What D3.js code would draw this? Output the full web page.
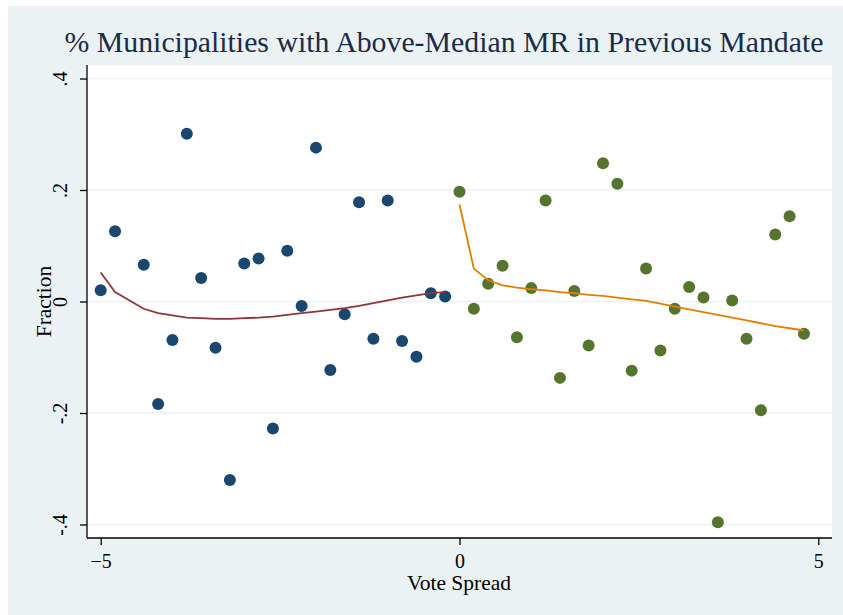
<!DOCTYPE html>
<html>
<head>
<meta charset="utf-8">
<script src="https://cdn.jsdelivr.net/npm/d3@7"></script>
<style>
  body { margin: 0; background: #fff; }
  svg text { font-family: "Liberation Serif", "Times New Roman", serif; }
</style>
</head>
<body>
<div id="chart"></div>
<script>
// bins left of the cutoff
var leftX = [-5.0, -4.8, -4.4, -4.2, -4.0, -3.8, -3.6, -3.4, -3.2, -3.0, -2.8, -2.6,
             -2.4, -2.2, -2.0, -1.8, -1.6, -1.4, -1.2, -1.0, -0.8, -0.6, -0.4, -0.2];
var leftY = [0.020, 0.126, 0.066, -0.184, -0.069, 0.301, 0.042, -0.083, -0.320, 0.068, 0.077, -0.228,
             0.091, -0.008, 0.276, -0.123, -0.023, 0.178, -0.067, 0.181, -0.071, -0.099, 0.015, 0.009];
var leftFit = [0.052, 0.017, -0.013, -0.021, -0.025, -0.029, -0.030, -0.031, -0.031, -0.030, -0.029, -0.027,
               -0.024, -0.021, -0.018, -0.015, -0.012, -0.008, -0.003, 0.002, 0.007, 0.011, 0.015, 0.017];

// bins right of the cutoff
var rightX = [0.0, 0.2, 0.4, 0.6, 0.8, 1.0, 1.2, 1.4, 1.6, 1.8, 2.0, 2.2, 2.4,
              2.6, 2.8, 3.0, 3.2, 3.4, 3.6, 3.8, 4.0, 4.2, 4.4, 4.6, 4.8];
var rightY = [0.197, -0.013, 0.032, 0.064, -0.064, 0.024, 0.181, -0.137, 0.019, -0.079, 0.248, 0.211, -0.124,
              0.059, -0.088, -0.013, 0.026, 0.007, -0.396, 0.002, -0.067, -0.195, 0.120, 0.153, -0.058];
var rightFit = [0.174, 0.059, 0.038, 0.029, 0.025, 0.022, 0.020, 0.017, 0.015, 0.012, 0.010, 0.007, 0.004,
                0.001, -0.004, -0.009, -0.014, -0.019, -0.024, -0.029, -0.034, -0.039, -0.044, -0.048, -0.052];

var xTicks = [-5, 0, 5];
var yTicks = [-0.4, -0.2, 0, 0.2, 0.4];
var yTickLabels = ["-.4", "-.2", "0", ".2", ".4"];

var Chart = (function () {
    "use strict";

    var width = 843,
        height = 615,
        serif = "Liberation Serif",
        plot = {left: 87, right: 832, top: 65, bottom: 538},
        x = d3.scaleLinear().domain([-5, 5]).range([100.7, 818.3]),
        y = d3.scaleLinear().domain([-0.4, 0.4]).range([524.5, 78.5]),
        svg;

    function init() {
        svg = d3.select("#chart")
            .append("svg")
            .attr("width", width)
            .attr("height", height)
            .attr("font-family", serif);
        drawBackground();
        drawGrid();
        drawSide(leftX, leftY, leftFit, "#1a476f", "#90353b");
        drawSide(rightX, rightY, rightFit, "#55752f", "#e37e00");
        drawAxes();
        drawTexts();
    }

    function drawBackground() {
        svg.append("rect")
            .attr("x", 8).attr("y", 6)
            .attr("width", width - 8).attr("height", height - 6)
            .attr("fill", "#eaf2f3");
        svg.append("rect")
            .attr("x", plot.left).attr("y", plot.top)
            .attr("width", plot.right - plot.left)
            .attr("height", plot.bottom - plot.top)
            .attr("fill", "#fff");
    }

    function drawGrid() {
        svg.append("g").selectAll("line")
            .data(yTicks)
            .enter().append("line")
            .attr("x1", plot.left).attr("x2", plot.right)
            .attr("y1", function (d) { return y(d); })
            .attr("y2", function (d) { return y(d); })
            .attr("stroke", "#eaf2f3")
            .attr("stroke-width", 1.6);
    }

    function drawSide(xs, ys, fit, dotColor, lineColor) {
        var pts = xs.map(function (d, i) { return {x: d, y: ys[i], f: fit[i]}; });
        svg.append("g").selectAll("circle")
            .data(pts)
            .enter().append("circle")
            .attr("cx", function (d) { return x(d.x); })
            .attr("cy", function (d) { return y(d.y); })
            .attr("r", 6)
            .attr("fill", dotColor);
        var line = d3.line()
            .x(function (d) { return x(d.x); })
            .y(function (d) { return y(d.f); });
        svg.append("path")
            .datum(pts)
            .attr("d", line)
            .attr("fill", "none")
            .attr("stroke", lineColor)
            .attr("stroke-width", 1.8);
    }

    function drawAxes() {
        var yAxis = d3.axisLeft(y)
            .tickValues(yTicks)
            .tickSize(7)
            .tickFormat(function (d, i) { return yTickLabels[i]; });
        var gy = svg.append("g")
            .attr("transform", "translate(" + plot.left + ",0)")
            .call(yAxis)
            .attr("font-family", serif)
            .attr("font-size", 20);
        gy.select(".domain")
            .attr("d", "M0," + plot.top + "V" + plot.bottom);
        gy.selectAll("text")
            .attr("x", 0).attr("dy", 0)
            .attr("transform", "translate(-20,0) rotate(-90)")
            .attr("text-anchor", "middle")
            .attr("fill", "#000");

        var xAxis = d3.axisBottom(x)
            .tickValues(xTicks)
            .tickSize(7)
            .tickFormat(d3.format("d"));
        var gx = svg.append("g")
            .attr("transform", "translate(0," + plot.bottom + ")")
            .call(xAxis)
            .attr("font-family", serif)
            .attr("font-size", 20);
        gx.select(".domain")
            .attr("d", "M" + plot.left + ",0H" + plot.right);
        gx.selectAll("text")
            .attr("y", 30).attr("dy", 0)
            .attr("fill", "#000");
        svg.selectAll(".domain, .tick line")
            .attr("stroke", "#000")
            .attr("stroke-width", 1.3);
    }

    function drawTexts() {
        svg.append("text")
            .attr("x", 444).attr("y", 52)
            .attr("text-anchor", "middle")
            .attr("font-size", 29.8)
            .attr("fill", "#1c2b4b")
            .text("% Municipalities with Above-Median MR in Previous Mandate");
        svg.append("text")
            .attr("x", 459).attr("y", 590)
            .attr("text-anchor", "middle")
            .attr("font-size", 21.5)
            .text("Vote Spread");
        svg.append("text")
            .attr("transform", "translate(51," + y(0) + ") rotate(-90)")
            .attr("text-anchor", "middle")
            .attr("font-size", 21.5)
            .text("Fraction");
    }

    return {init: init};
})();

Chart.init();
</script>
</body>
</html>
